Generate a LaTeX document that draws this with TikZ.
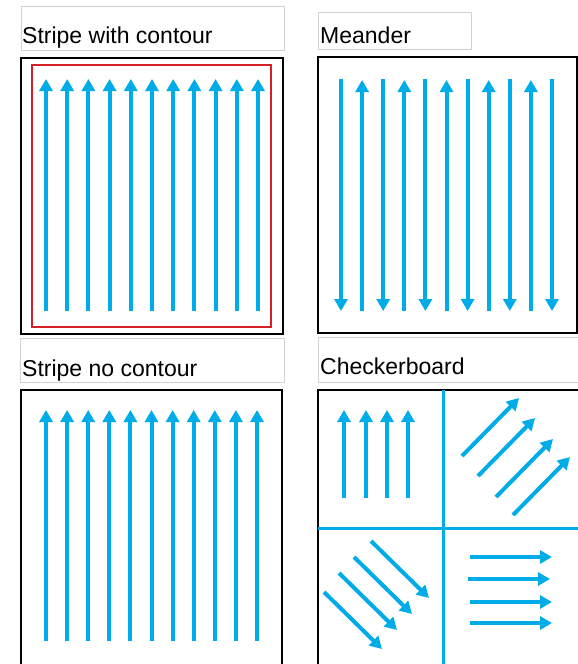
\documentclass[tikz,border=0pt]{standalone}
\usepackage{fontspec}
\setmainfont{Liberation Sans}
\usetikzlibrary{arrows.meta}
\definecolor{flow}{RGB}{0,172,232}
\definecolor{contour}{RGB}{212,32,38}
\tikzset{
	pass/.style = {flow, line width = 4pt, -{Triangle[width = 13pt, length = 12pt]}},
	track/.style = {flow, line width = 3pt},
	panel/.style = {black, line width = 2pt},
	caption/.style = {draw = gray!35, line width = 0.8pt},
	title/.style = {anchor = base west, inner sep = 0pt, font = \fontsize{23}{27}\selectfont}
}
\begin{document}
\begin{tikzpicture}[x = 1pt, y = -1pt]
	\useasboundingbox (0,0) rectangle (578,664);
	\clip (0,0) rectangle (578,664);
	\draw [caption] (21,6) rectangle (284,50);
	\node [title] (stripeA) at (22,43.5) {Stripe with contour};
	\draw [panel] (21,58) rectangle (283,334);
	\draw [contour, line width = 1.5pt] (32,65) rectangle (271,327);
	\foreach \i in {0,...,10}
		\draw [pass] ({46+21.2*\i},311) -- ({46+21.2*\i},79);
	\draw [caption] (318,12) rectangle (471,49);
	\node [title] (meander) at (320,43) {Meander};
	\draw [panel] (318,57) rectangle (577,333);
	\foreach \i in {0,2,...,10}
		\draw [pass] ({341+21.1*\i},79) -- ({341+21.1*\i},311);
	\foreach \i in {1,3,...,9}
		\draw [pass] ({341+21.1*\i},311) -- ({341+21.1*\i},80);
	\draw [caption] (20,338) rectangle (284,382);
	\node [title] (stripeB) at (22,376) {Stripe no contour};
	\draw [panel] (21,390) rectangle (282,680);
	\foreach \i in {0,...,10}
		\draw [pass] ({46+21.1*\i},641) -- ({46+21.1*\i},410);
	\draw [caption] (318,337) rectangle (590,382);
	\node [title] (checker) at (320,374) {Checkerboard};
	\draw [panel] (318,390) rectangle (590,680);
	\draw [track] (443,390) -- (443,680);
	\draw [track] (318,528) -- (590,528);
	\foreach \x in {344,366,387,408}
		\draw [pass] (\x,498) -- (\x,410);
	\foreach \x/\y in {462/456,478/476,496/497,513/515}
		\draw [pass] (\x,\y) -- ++(57,-58);
	\foreach \x/\y in {371/541,354/557,339/573,324/592}
		\draw [pass] (\x,\y) -- ++(58,57);
	\foreach \y/\x in {557/470,579/468,602/470,623/470}
		\draw [pass] (\x,\y) -- ++(82,0);
\end{tikzpicture}
\end{document}
